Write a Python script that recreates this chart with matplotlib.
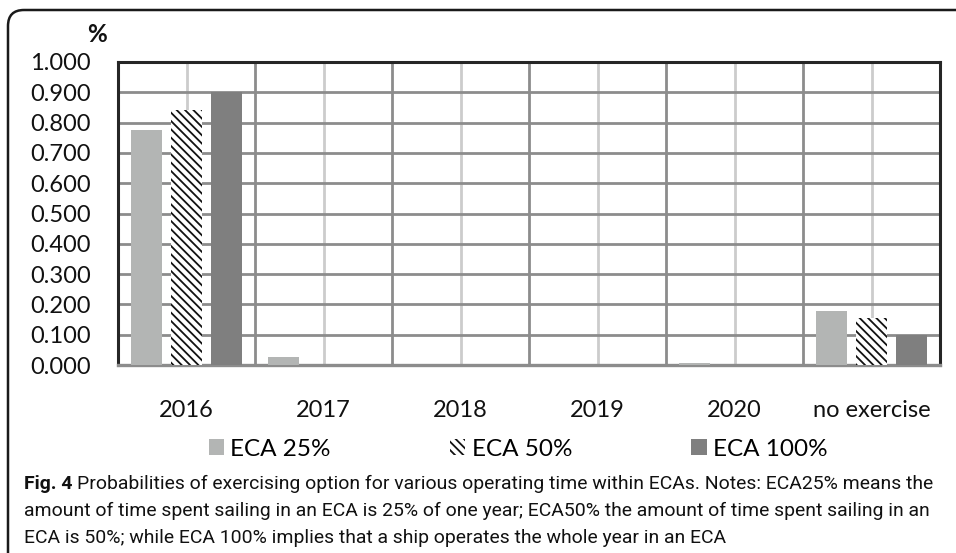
import matplotlib
matplotlib.use("Agg")
import matplotlib.pyplot as plt
import numpy as np
from matplotlib.patches import FancyBboxPatch

categories = ['2016', '2017', '2018', '2019', '2020', 'no exercise']
eca25 = [0.776, 0.028, 0.0, 0.0, 0.008, 0.178]
eca50 = [0.842, 0.0, 0.0, 0.0, 0.0, 0.154]
eca100 = [0.900, 0.0, 0.0, 0.0, 0.0, 0.099]
series_names = ['ECA 25%', 'ECA 50%', 'ECA 100%']
yticks = [0.0, 0.1, 0.2, 0.3, 0.4, 0.5, 0.6, 0.7, 0.8, 0.9, 1.0]

chart_font = ['Lato', 'DejaVu Sans']
cap_font = ['Roboto', 'DejaVu Sans']
plt.rcParams['font.family'] = chart_font
plt.rcParams['hatch.linewidth'] = 1.3

W, H = 956, 553
fig = plt.figure(figsize=(W / 100, H / 100), dpi=100)
ax = fig.add_axes([118 / W, 1 - 365 / H, (940 - 118) / W, (365 - 62) / H])

x = np.arange(len(categories))
bw = 0.233
off = 0.292
ax.bar(x - off, eca25, bw, color='#b3b5b4', linewidth=0, zorder=3, label=series_names[0])
ax.bar(x, eca50, bw, color='white', edgecolor='#111111', hatch='\\\\\\\\', linewidth=0,
       zorder=3, label=series_names[1])
ax.bar(x + off, eca100, bw, color='#7f7f7f', linewidth=0, zorder=3, label=series_names[2])

ax.set_xlim(-0.5, len(categories) - 0.5)
ax.set_ylim(0, 1.0)
ax.set_yticks(yticks)
ax.set_yticklabels(['%.3f' % v for v in yticks])
ax.set_xticks(x)
ax.set_xticklabels(categories)
ax.set_xticks(np.arange(len(categories) + 1) - 0.5, minor=True)
ax.tick_params(axis='both', which='both', length=0, labelsize=17, colors='#111111')
ax.tick_params(axis='y', pad=19.5)
ax.tick_params(axis='x', pad=25)

# gridlines
ax.grid(axis='y', which='major', color='#8c8c8c', linewidth=2.0, zorder=1)
ax.grid(axis='x', which='major', color='#cccccc', linewidth=2.0, zorder=1)
ax.grid(axis='x', which='minor', color='#8c8c8c', linewidth=2.0, zorder=1)
ax.set_axisbelow(True)

for s in ['top', 'right', 'left']:
    ax.spines[s].set_color('#262626')
    ax.spines[s].set_linewidth(2.2)
ax.spines['bottom'].set_color('#8c8c8c')
ax.spines['bottom'].set_linewidth(2.4)

fig.text(97 / W, 1 - 35 / H, '%', ha='center', va='center', fontsize=17.5,
         fontweight='bold', color='#111111')

leg = fig.legend(loc='center', bbox_to_anchor=(518 / W, 1 - 449 / H), ncol=3,
                 frameon=False, fontsize=17.5, handlelength=0.64, handleheight=0.62,
                 handletextpad=0.25, columnspacing=4.9)

# rounded frame
frame = FancyBboxPatch((0.08, -0.5), 11.0, 5.43 + 0.5, boxstyle='round,pad=0,rounding_size=0.16',
                       transform=fig.dpi_scale_trans, facecolor='none', edgecolor='#1a1a1a',
                       linewidth=1.8, clip_on=False)
fig.add_artist(frame)

# caption
cap_lines = [
    'Probabilities of exercising option for various operating time within ECAs. Notes: ECA25% means the',
    'amount of time spent sailing in an ECA is 25% of one year; ECA50% the amount of time spent sailing in an',
    'ECA is 50%; while ECA 100% implies that a ship operates the whole year in an ECA',
]
cap_x = 24
cap_right = 940
cap_ys = [484, 511, 538]
fig.canvas.draw()
r = fig.canvas.get_renderer()


def line_width(fs):
    t1 = fig.text(0, 0, 'Fig. 4 ', fontsize=fs, fontweight='bold', family=cap_font)
    t2 = fig.text(0, 0, cap_lines[0], fontsize=fs, family=cap_font)
    w = t1.get_window_extent(r).width + t2.get_window_extent(r).width
    t1.remove(); t2.remove()
    return w


cap_fs = 14.0
w0 = line_width(cap_fs)
cap_fs = cap_fs * (cap_right - cap_x) / w0

bold = fig.text(cap_x / W, 1 - cap_ys[0] / H, 'Fig. 4 ', fontsize=cap_fs, fontweight='bold',
                family=cap_font, va='center', ha='left', color='#111111')
bb = bold.get_window_extent(r)
fig.text(bb.x1 / W, 1 - cap_ys[0] / H, cap_lines[0], fontsize=cap_fs, family=cap_font,
         va='center', ha='left', color='#111111')
for line, y in zip(cap_lines[1:], cap_ys[1:]):
    fig.text(cap_x / W, 1 - y / H, line, fontsize=cap_fs, family=cap_font,
             va='center', ha='left', color='#111111')

fig.savefig('out.png', dpi=100)
